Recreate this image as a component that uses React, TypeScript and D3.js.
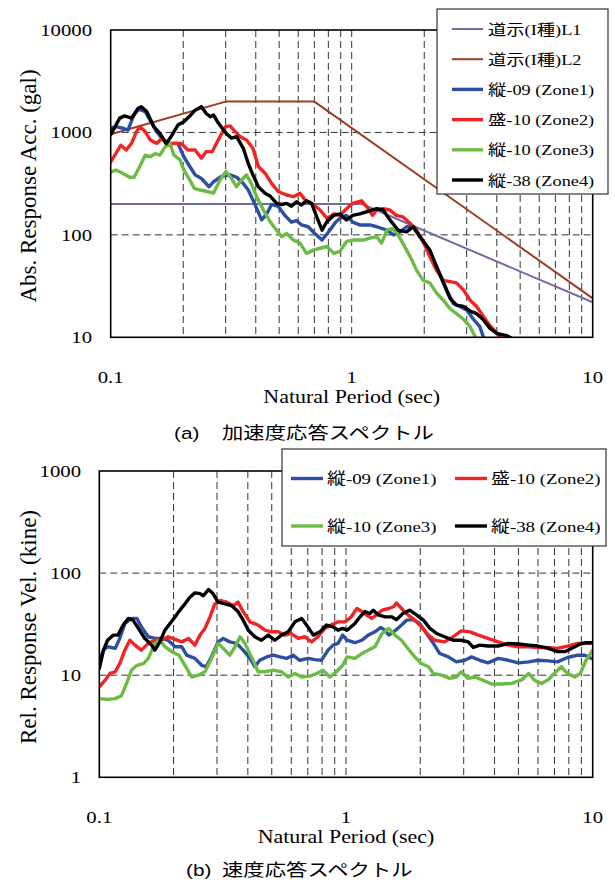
import * as d3 from 'd3';

type Pt = [number, number];

// (a) acceleration spectra, [period sec, gal]
const accL1: Pt[] = [[0.1, 200], [1.1, 200], [10, 22]];
const accL2: Pt[] = [[0.1, 960], [0.3, 2000], [0.7, 2000], [10, 24]];
const accZone1: Pt[] = [
  [0.1, 1100], [0.105, 1140], [0.112, 1100], [0.118, 1055], [0.124, 1425], [0.13, 1690], [0.139, 1600],
  [0.146, 1300], [0.155, 1020], [0.165, 843], [0.176, 782], [0.19, 782], [0.201, 579], [0.213, 465],
  [0.224, 385], [0.238, 355], [0.256, 295], [0.267, 330], [0.287, 370], [0.313, 385], [0.333, 365],
  [0.355, 318], [0.372, 274], [0.395, 203], [0.423, 140], [0.444, 160], [0.465, 198], [0.495, 190],
  [0.528, 155], [0.562, 133], [0.59, 138], [0.619, 125], [0.66, 120], [0.703, 103], [0.753, 89],
  [0.8, 106], [0.857, 133], [0.894, 145], [0.951, 155], [1.01, 133], [1.08, 125], [1.19, 125],
  [1.27, 120], [1.4, 111], [1.49, 100], [1.59, 107], [1.69, 120], [1.8, 120], [1.92, 96], [2.04, 77],
  [2.18, 57], [2.33, 41], [2.48, 29], [2.64, 21.4], [2.81, 20], [3.0, 18.5], [3.2, 15], [3.4, 12.7],
  [3.55, 9.5],
];
const accZone2: Pt[] = [
  [0.1, 516], [0.105, 620], [0.11, 750], [0.116, 673], [0.122, 782], [0.128, 1020], [0.132, 1140],
  [0.139, 1020], [0.146, 843], [0.155, 782], [0.163, 870], [0.173, 750], [0.183, 782], [0.196, 782],
  [0.209, 673], [0.224, 673], [0.238, 560], [0.249, 650], [0.264, 650], [0.284, 910], [0.3, 1140],
  [0.313, 1160], [0.328, 1020], [0.344, 910], [0.366, 843], [0.389, 700], [0.41, 465], [0.437, 400],
  [0.465, 318], [0.495, 265], [0.537, 245], [0.572, 236], [0.61, 255], [0.65, 210], [0.693, 198],
  [0.739, 175], [0.79, 145], [0.843, 160], [0.894, 155], [0.951, 180], [1.01, 203], [1.1, 215],
  [1.15, 190], [1.22, 155], [1.27, 175], [1.35, 180], [1.44, 175], [1.53, 155], [1.63, 150],
  [1.75, 129], [1.86, 111], [1.98, 86], [2.11, 61], [2.25, 45], [2.4, 36], [2.56, 35], [2.72, 34],
  [2.91, 29], [3.1, 23], [3.3, 20], [3.52, 16], [3.75, 13], [4.0, 11], [4.2, 9.5],
];
const accZone3: Pt[] = [
  [0.1, 410], [0.105, 430], [0.112, 400], [0.12, 365], [0.125, 365], [0.132, 465], [0.139, 600],
  [0.146, 579], [0.153, 620], [0.16, 600], [0.168, 720], [0.176, 782], [0.183, 600], [0.194, 540],
  [0.201, 430], [0.213, 343], [0.222, 285], [0.235, 274], [0.251, 265], [0.267, 255], [0.284, 343],
  [0.301, 415], [0.317, 355], [0.333, 295], [0.349, 343], [0.366, 385], [0.383, 318], [0.403, 236],
  [0.43, 175], [0.458, 135], [0.488, 111], [0.512, 96], [0.537, 103], [0.572, 89], [0.61, 83],
  [0.65, 66], [0.693, 71], [0.739, 74], [0.79, 77], [0.843, 66], [0.894, 69], [0.951, 86], [1.01, 89],
  [1.12, 89], [1.19, 93], [1.27, 96], [1.33, 83], [1.4, 111], [1.47, 115], [1.53, 107], [1.63, 83],
  [1.75, 61], [1.86, 45], [1.98, 36], [2.11, 34], [2.25, 27], [2.4, 23], [2.56, 19], [2.72, 17],
  [2.91, 15], [3.1, 12.7], [3.3, 9.5],
];
const accZone4: Pt[] = [
  [0.1, 950], [0.109, 1380], [0.114, 1450], [0.122, 1380], [0.13, 1720], [0.134, 1780], [0.141, 1600],
  [0.151, 1140], [0.16, 980], [0.17, 780], [0.178, 910], [0.19, 1180], [0.201, 1270], [0.215, 1480],
  [0.224, 1650], [0.238, 1780], [0.249, 1530], [0.259, 1425], [0.267, 1480], [0.28, 1227], [0.301, 980],
  [0.317, 880], [0.333, 910], [0.355, 700], [0.372, 500], [0.389, 385], [0.41, 295], [0.437, 255],
  [0.458, 240], [0.488, 203], [0.512, 198], [0.537, 203], [0.562, 190], [0.59, 210], [0.619, 196],
  [0.65, 215], [0.682, 203], [0.716, 150], [0.753, 111], [0.79, 135], [0.843, 155], [0.894, 160],
  [0.951, 140], [1.01, 155], [1.08, 160], [1.15, 168], [1.27, 180], [1.35, 175], [1.44, 140],
  [1.56, 111], [1.69, 107], [1.8, 120], [1.92, 96], [2.11, 71], [2.25, 49], [2.4, 34], [2.56, 24],
  [2.72, 20.6], [2.91, 20], [3.1, 18], [3.3, 17], [3.52, 14.8], [3.75, 12.2], [4.0, 10.9], [4.4, 10.4],
  [4.7, 9.5],
];

// (b) velocity spectra, [period sec, kine]
const velZone1: Pt[] = [
  [0.1, 14], [0.104, 17.6], [0.108, 19], [0.116, 18.3], [0.121, 22.9], [0.127, 32.1], [0.135, 36],
  [0.142, 36], [0.148, 29.8], [0.158, 23.8], [0.168, 22.9], [0.179, 22.9], [0.19, 22], [0.203, 19],
  [0.216, 19], [0.226, 15.7], [0.244, 14.6], [0.26, 12.5], [0.271, 12.1], [0.283, 14.6], [0.303, 21.2],
  [0.318, 22.9], [0.338, 21.2], [0.36, 20.5], [0.383, 17.6], [0.408, 14.6], [0.427, 12.1], [0.447, 14],
  [0.477, 15.1], [0.507, 15.7], [0.54, 15.1], [0.574, 14.6], [0.61, 15.7], [0.65, 14], [0.703, 14.6],
  [0.748, 14.2], [0.795, 14], [0.846, 17.6], [0.887, 19.7], [0.928, 20.5], [0.97, 24.7], [1.01, 22],
  [1.087, 20.8], [1.16, 22], [1.23, 24.7], [1.31, 26.6], [1.38, 29.3], [1.44, 27.6], [1.49, 24.7],
  [1.58, 27.2], [1.68, 31], [1.76, 34.6], [1.87, 35], [1.99, 32.1], [2.12, 25.6], [2.26, 20.5],
  [2.4, 16.3], [2.6, 15.1], [2.8, 13.5], [3.03, 14], [3.22, 15.1], [3.49, 14], [3.76, 13.2], [4.14, 14.6],
  [4.55, 14], [5.0, 13.2], [5.5, 13.5], [6.0, 14], [6.6, 13.8], [7.2, 13.5], [7.9, 14.9], [8.7, 15.7],
  [9.3, 15.7], [9.9, 14.6],
];
const velZone2: Pt[] = [
  [0.1, 7.7], [0.1055, 8.9], [0.1105, 10.4], [0.116, 10.8], [0.121, 13], [0.127, 17.6], [0.133, 22],
  [0.1395, 19.7], [0.148, 17.6], [0.158, 20.5], [0.168, 22], [0.179, 22], [0.19, 23.8], [0.203, 22.4],
  [0.216, 21.2], [0.23, 22.9], [0.244, 19.7], [0.256, 24.7], [0.268, 28.7], [0.281, 37.3], [0.294, 50],
  [0.309, 54], [0.328, 52], [0.349, 48], [0.365, 52], [0.383, 42], [0.408, 33.3], [0.44, 31],
  [0.469, 27.6], [0.5, 26.6], [0.53, 26.6], [0.565, 24.7], [0.6, 25.6], [0.64, 22.9], [0.681, 23.8],
  [0.725, 21.2], [0.77, 23.8], [0.82, 28.7], [0.87, 31], [0.928, 33.3], [0.99, 33.3], [1.05, 37.3],
  [1.107, 45], [1.16, 42], [1.21, 39], [1.27, 36], [1.33, 39], [1.4, 43.3], [1.49, 45], [1.56, 46.8],
  [1.6, 51], [1.68, 45], [1.78, 39], [1.9, 34.6], [2.02, 29.8], [2.16, 24.7], [2.29, 22], [2.51, 21.2],
  [2.72, 23.8], [2.93, 27.2], [3.18, 26.6], [3.44, 24.7], [3.76, 22.9], [4.14, 21.2], [4.55, 19.7],
  [5.0, 19], [5.5, 19], [6.0, 18.7], [6.6, 18.7], [7.2, 18.3], [7.9, 19.3], [8.7, 20.5], [9.3, 20.5],
  [10, 20.8],
];
const velZone3: Pt[] = [
  [0.1, 5.9], [0.108, 5.8], [0.116, 5.9], [0.123, 6.3], [0.129, 8.3], [0.135, 11.2], [0.142, 12.5],
  [0.151, 13], [0.158, 14.6], [0.168, 20.5], [0.176, 22], [0.1845, 19], [0.197, 17], [0.21, 15.7],
  [0.2225, 12.5], [0.237, 9.6], [0.252, 10], [0.268, 10.8], [0.283, 14], [0.303, 20.5], [0.318, 18.3],
  [0.338, 15.7], [0.355, 19], [0.372, 23.8], [0.389, 20.5], [0.414, 15.1], [0.44, 10.8], [0.469, 10.8],
  [0.507, 11.2], [0.548, 10.8], [0.583, 9.6], [0.621, 10.4], [0.661, 9.6], [0.714, 9.8], [0.76, 10.4],
  [0.807, 11.2], [0.86, 9.6], [0.914, 10.8], [0.97, 12.5], [1.01, 15.1], [1.087, 14.6], [1.16, 16.3],
  [1.23, 17.6], [1.31, 19], [1.4, 25.6], [1.49, 28.7], [1.58, 24.7], [1.68, 22], [1.78, 18.3],
  [1.9, 15.1], [2.02, 13], [2.16, 12.1], [2.26, 10.4], [2.44, 10], [2.63, 9.3], [2.8, 9.6], [2.93, 10.8],
  [3.13, 9.3], [3.33, 9.6], [3.6, 8.9], [3.9, 8.2], [4.27, 8.2], [4.7, 8.3], [5.15, 9], [5.5, 10.4],
  [5.82, 8.9], [6.2, 8.3], [6.6, 9], [7.1, 10.8], [7.45, 12.1], [7.9, 10.4], [8.46, 9.6], [8.9, 10.4],
  [9.4, 14], [10, 17.6],
];
const velZone4: Pt[] = [
  [0.1, 11.6], [0.104, 17.6], [0.108, 22], [0.114, 24.7], [0.119, 24.7], [0.125, 31], [0.131, 36],
  [0.137, 34.6], [0.144, 28.7], [0.153, 22.9], [0.163, 19.7], [0.168, 17.6], [0.176, 21.2],
  [0.1845, 27.6], [0.1935, 32.1], [0.203, 37.3], [0.212, 43.3], [0.2225, 50], [0.233, 58], [0.244, 64],
  [0.256, 63], [0.264, 60], [0.277, 69], [0.289, 63], [0.303, 52], [0.323, 50], [0.344, 48], [0.365, 42],
  [0.383, 34.6], [0.402, 27.6], [0.427, 23.8], [0.454, 22], [0.484, 24.7], [0.515, 22], [0.548, 24.7],
  [0.583, 26.6], [0.621, 33.3], [0.661, 36], [0.692, 31], [0.737, 24.7], [0.784, 26.6], [0.834, 31],
  [0.887, 29.8], [0.928, 27.6], [0.97, 28.7], [1.01, 27.6], [1.087, 32.1], [1.14, 37.3], [1.193, 42],
  [1.25, 40.2], [1.29, 43.3], [1.35, 39], [1.44, 37.3], [1.53, 37.3], [1.6, 35], [1.7, 40.2],
  [1.81, 43.3], [1.93, 39], [2.06, 34.6], [2.19, 28.7], [2.33, 25.6], [2.51, 23.8], [2.72, 22],
  [2.93, 22], [3.13, 21.2], [3.28, 18.7], [3.49, 19.7], [3.76, 19.3], [4.14, 19.3], [4.55, 20.5],
  [5.0, 20.2], [5.5, 19.7], [6.0, 19.3], [6.6, 18.3], [7.2, 17], [7.71, 17], [8.2, 18.3], [8.9, 20.2],
  [9.4, 20.8], [10, 20.8],
];

const periodTicks = [0.1, 1, 10];
const accTicks = [10, 100, 1000, 10000];
const velTicks = [1, 10, 100, 1000];
const minorPeriods = [0.2, 0.3, 0.4, 0.5, 0.6, 0.7, 0.8, 0.9, 1, 2, 3, 4, 5, 6, 7, 8, 9];

const accSeries = [
  { name: '道示(I種)L1', data: accL1, color: '#6c6da9', width: 2 },
  { name: '道示(I種)L2', data: accL2, color: '#9e3d1f', width: 2 },
  { name: '縦-09 (Zone1)', data: accZone1, color: '#2c4fa3', width: 3.4 },
  { name: '盛-10 (Zone2)', data: accZone2, color: '#f02424', width: 3.4 },
  { name: '縦-10 (Zone3)', data: accZone3, color: '#6cbb45', width: 3.4 },
  { name: '縦-38 (Zone4)', data: accZone4, color: '#000000', width: 3.4 },
];
const velSeries = [
  { name: '縦-09 (Zone1)', data: velZone1, color: '#2c4fa3', width: 3.4 },
  { name: '盛-10 (Zone2)', data: velZone2, color: '#f02424', width: 3.4 },
  { name: '縦-10 (Zone3)', data: velZone3, color: '#6cbb45', width: 3.4 },
  { name: '縦-38 (Zone4)', data: velZone4, color: '#000000', width: 3.4 },
];

const SERIF = "'Liberation Serif', 'Times New Roman', 'Noto Sans CJK JP', serif";
const SANS = "'Liberation Sans', Arial, sans-serif";
const CJK = "'Noto Sans CJK JP', sans-serif";
const SX = 1.22; // source figure is stretched horizontally

function Txt({ x, y, size, anchor = 'start', family = SERIF, sx = SX, children }: any) {
  return (
    <text
      transform={`translate(${x},${y}) scale(${sx},1)`}
      fontSize={size}
      textAnchor={anchor}
      fontFamily={family}
      fill="#000"
    >
      {children}
    </text>
  );
}

function Panel({ id, x, y, series, yTicks, yTickX, xTickY, yTitle, titleY }: any) {
  const [x0, x1] = x.range();
  const [y0, y1] = y.range();
  const line = d3
    .line<Pt>()
    .x(d => x(d[0]))
    .y(d => y(d[1]));
  const decades = yTicks.slice(1, -1);
  return (
    <g>
      <defs>
        <clipPath id={id}>
          <rect x={x0} y={y1} width={x1 - x0} height={y0 - y1} />
        </clipPath>
      </defs>
      <g stroke="#333" strokeWidth={1} strokeDasharray="7,4">
        {minorPeriods.map(p => (
          <line key={p} x1={x(p)} x2={x(p)} y1={y1} y2={y0} />
        ))}
        {decades.map((v: number) => (
          <line key={v} x1={x0} x2={x1} y1={y(v)} y2={y(v)} />
        ))}
      </g>
      <g clipPath={`url(#${id})`} fill="none" strokeLinejoin="round" strokeLinecap="round">
        {series.map((s: any) => (
          <path key={s.name} d={line(s.data) ?? ''} stroke={s.color} strokeWidth={s.width} />
        ))}
      </g>
      <rect x={x0} y={y1} width={x1 - x0} height={y0 - y1} fill="none" stroke="#000" strokeWidth={1.6} />
      {yTicks.map((v: number) => (
        <Txt key={v} x={yTickX} y={y(v) + 6} size={17} anchor="end">
          {v}
        </Txt>
      ))}
      {periodTicks.map(p => (
        <Txt key={p} x={x(p)} y={xTickY} size={17} anchor="middle">
          {p}
        </Txt>
      ))}
      <Txt x={(x0 + x1) / 2} y={xTickY + 20} size={18} anchor="middle">
        Natural Period (sec)
      </Txt>
      <text
        transform={`translate(36,${titleY}) rotate(-90)`}
        fontSize={23}
        textAnchor="middle"
        fontFamily={SERIF}
      >
        {yTitle}
      </text>
    </g>
  );
}

export default function App() {
  const xA = d3.scaleLog().domain([0.1, 10]).range([110.7, 592.7]);
  const yA = d3.scaleLog().domain([10, 10000]).range([337.3, 30]);
  const xB = d3.scaleLog().domain([0.1, 10]).range([99.3, 592.7]);
  const yB = d3.scaleLog().domain([1, 1000]).range([777.3, 471]);

  return (
    <svg width={615} height={882} style={{ position: 'absolute', left: 0, top: 0, background: '#fff' }}>
      <rect width={615} height={882} fill="#fff" />
      <Panel
        id="clipA"
        x={xA}
        y={yA}
        series={accSeries}
        yTicks={accTicks}
        yTickX={92}
        xTickY={383}
        yTitle="Abs. Response Acc. (gal)"
        titleY={186}
      />
      <Panel
        id="clipB"
        x={xB}
        y={yB}
        series={velSeries}
        yTicks={velTicks}
        yTickX={81}
        xTickY={823}
        yTitle="Rel. Response Vel. (kine)"
        titleY={627}
      />

      {/* legend (a) */}
      <rect x={437} y={9} width={171} height={185} fill="#fff" stroke="#333" strokeWidth={1.2} />
      {accSeries.map((s, i) => {
        const ly = 29 + i * 30.2;
        return (
          <g key={s.name}>
            <line x1={452} x2={483} y1={ly} y2={ly} stroke={s.color} strokeWidth={s.width} />
            <Txt x={488} y={ly + 5.5} size={15}>
              {s.name}
            </Txt>
          </g>
        );
      })}

      {/* legend (b) */}
      <rect x={282} y={449} width={324} height={97} fill="#fff" stroke="#333" strokeWidth={1.2} />
      {velSeries.map((s, i) => {
        const lx = i % 2 === 0 ? 291 : 455;
        const ly = i < 2 ? 478.5 : 526;
        return (
          <g key={s.name}>
            <line x1={lx} x2={lx + 32} y1={ly} y2={ly} stroke={s.color} strokeWidth={s.width} />
            <Txt x={lx + 36} y={ly + 5.5} size={15.5}>
              {s.name}
            </Txt>
          </g>
        );
      })}

      {/* captions */}
      <Txt x={174} y={439} size={17} family={SANS}>
        (a)
      </Txt>
      <Txt x={222} y={439} size={17.5} family={CJK}>
        加速度応答スペクトル
      </Txt>
      <Txt x={186} y={876} size={17} family={SANS}>
        (b)
      </Txt>
      <Txt x={222} y={876} size={17.5} family={CJK}>
        速度応答スペクトル
      </Txt>
    </svg>
  );
}
